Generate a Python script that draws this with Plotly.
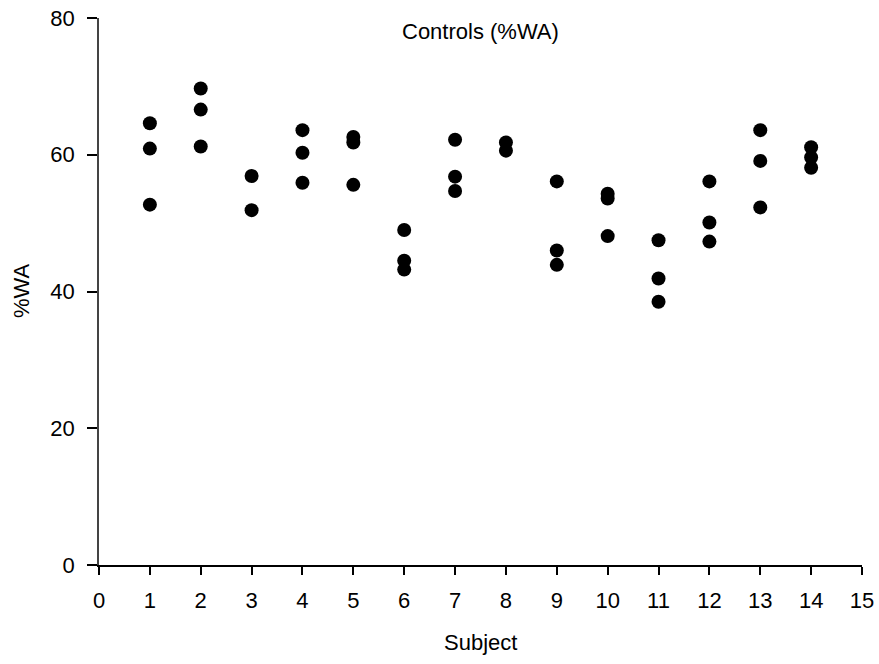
import plotly.graph_objects as go

subjects = [1, 1, 1, 2, 2, 2, 3, 3, 4, 4, 4, 5, 5, 5, 6, 6, 6, 7, 7, 7,
            8, 8, 9, 9, 9, 10, 10, 10, 11, 11, 11, 12, 12, 12, 13, 13, 13, 14, 14, 14]
wa_values = [64.6, 60.9, 52.7, 69.7, 66.6, 61.2, 56.9, 51.9, 63.6, 60.3, 55.9,
             62.6, 61.8, 55.6, 49.0, 44.5, 43.2, 62.2, 56.8, 54.7,
             61.8, 60.6, 56.1, 46.0, 43.9, 54.3, 53.6, 48.1,
             47.5, 41.9, 38.5, 56.1, 50.1, 47.3, 63.6, 59.1, 52.3, 61.1, 59.6, 58.1]
x_ticks = list(range(0, 16))
y_ticks = [0, 20, 40, 60, 80]
title_text = "Controls (%WA)"
x_title = "Subject"
y_title = "%WA"

FONT = "Liberation Sans, Arial, sans-serif"

fig = go.Figure(go.Scatter(
    x=subjects, y=wa_values, mode="markers",
    marker=dict(color="black", size=14, line=dict(width=0)),
    cliponaxis=False,
))

fig.add_annotation(text=title_text, x=0.5, xref="paper", y=78, yref="y",
                   showarrow=False, font=dict(family=FONT, size=22, color="black"))
fig.add_annotation(text=x_title, x=0.4997, xref="paper", y=-0.1425, yref="paper",
                   yanchor="middle", showarrow=False,
                   font=dict(family=FONT, size=22, color="black"))
fig.add_annotation(text=y_title, x=-0.1015, xref="paper", y=0.502, yref="paper",
                   xanchor="center", yanchor="middle", textangle=-90, showarrow=False,
                   font=dict(family=FONT, size=22, color="black"))

fig.update_layout(
    template="none",
    width=879, height=664,
    margin=dict(l=98.5, r=17, t=17.5, b=99, autoexpand=False),
    plot_bgcolor="white", paper_bgcolor="white",
    showlegend=False,
    font=dict(family=FONT, size=22, color="black"),
)
fig.update_xaxes(
    range=[0, 15], tickvals=x_ticks, ticks="outside", ticklen=8, tickwidth=1.5,
    tickcolor="black", showline=True, linecolor="black", linewidth=2,
    showgrid=False, zeroline=False, automargin=False,
    tickfont=dict(size=22), ticklabelstandoff=7,
)
fig.update_yaxes(
    range=[0, 80], tickvals=y_ticks, ticks="outside", ticklen=10, tickwidth=1.5,
    tickcolor="black", showline=True, linecolor="#444", linewidth=1.5,
    showgrid=False, zeroline=False, automargin=False,
    tickfont=dict(size=22), ticklabelstandoff=8,
)

fig.write_html("out.html")
